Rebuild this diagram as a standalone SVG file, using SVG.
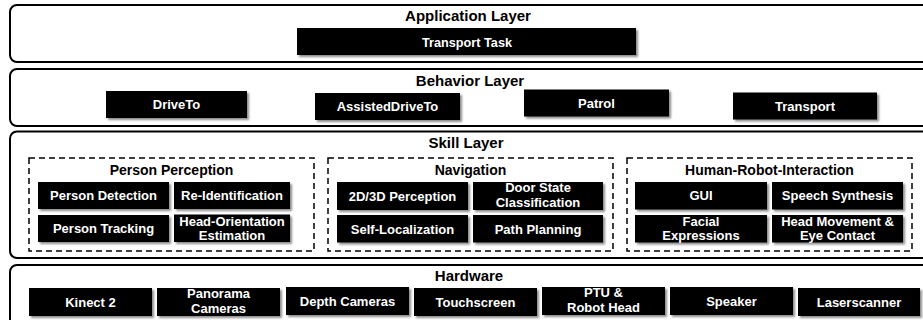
<svg xmlns="http://www.w3.org/2000/svg" width="923" height="320" viewBox="0 0 923 320">
  <defs>
    <filter id="shadow" x="-10%" y="-30%" width="130%" height="180%">
      <feDropShadow dx="2" dy="2" stdDeviation="1.3" flood-color="#000" flood-opacity="0.45"/>
    </filter>
  </defs>
  <style>
    .layer { fill: #fff; stroke: #000; stroke-width: 2; }
    .group { fill: none; stroke: #000; stroke-width: 1.5; stroke-dasharray: 6 4; }
    .box { fill: #000; filter: url(#shadow); }
    .title { font-family: "Liberation Sans", Arial, sans-serif; font-weight: bold; font-size: 15px; fill: #000; text-anchor: middle; }
    .gtitle { font-family: "Liberation Sans", Arial, sans-serif; font-weight: bold; font-size: 14px; fill: #000; text-anchor: middle; }
    .lbl { font-family: "Liberation Sans", Arial, sans-serif; font-weight: bold; font-size: 13px; fill: #fff; text-anchor: middle; }
  </style>

  <!-- Application layer -->
  <g id="application-layer">
    <rect class="layer" x="10" y="5" width="925" height="57" rx="7"/>
    <text class="title" x="468" y="21" font-size="16">Application Layer</text>
  </g>
  <g id="transport-task">
    <rect class="box" x="297" y="28" width="339" height="27"/>
    <text class="lbl" x="467" y="46.5" textLength="90" lengthAdjust="spacingAndGlyphs">Transport Task</text>
  </g>

  <!-- Behavior layer -->
  <g id="behavior-layer">
    <rect class="layer" x="10" y="69" width="925" height="57" rx="7"/>
    <text class="title" x="470" y="85.5" font-size="16">Behavior Layer</text>
  </g>
  <g id="drive-to">
    <rect class="box" x="106" y="91" width="141" height="27"/>
    <text class="lbl" x="176.5" y="109">DriveTo</text>
  </g>
  <g id="assisted-drive-to">
    <rect class="box" x="315" y="93" width="145" height="27"/>
    <text class="lbl" x="387.5" y="110.7">AssistedDriveTo</text>
  </g>
  <g id="patrol">
    <rect class="box" x="524" y="89.5" width="145" height="27"/>
    <text class="lbl" x="596.5" y="108">Patrol</text>
  </g>
  <g id="transport">
    <rect class="box" x="733" y="92.5" width="144" height="27"/>
    <text class="lbl" x="805" y="111">Transport</text>
  </g>

  <!-- Skill layer -->
  <g id="skill-layer">
    <rect class="layer" x="10" y="131.5" width="925" height="126.5" rx="7"/>
    <text class="title" x="466" y="148">Skill Layer</text>
  </g>

  <g id="person-perception">
    <rect class="group" x="29" y="158" width="285" height="93"/>
    <text class="gtitle" x="171.5" y="175">Person Perception</text>
  </g>
  <g id="person-detection">
    <rect class="box" x="38" y="182" width="131" height="27"/>
    <text class="lbl" x="103.5" y="200">Person Detection</text>
  </g>
  <g id="re-identification">
    <rect class="box" x="174" y="182" width="116" height="27"/>
    <text class="lbl" x="232" y="200">Re-Identification</text>
  </g>
  <g id="person-tracking">
    <rect class="box" x="38" y="215" width="131" height="27"/>
    <text class="lbl" x="103.5" y="233">Person Tracking</text>
  </g>
  <g id="head-orientation-estimation">
    <rect class="box" x="174" y="214.5" width="116" height="27.5"/>
    <text class="lbl" x="232" y="225.5">Head-Orientation</text>
    <text class="lbl" x="232" y="240">Estimation</text>
  </g>

  <g id="navigation">
    <rect class="group" x="328" y="158" width="285" height="93"/>
    <text class="gtitle" x="470.5" y="175">Navigation</text>
  </g>
  <g id="perception-2d3d">
    <rect class="box" x="337" y="182" width="131" height="28"/>
    <text class="lbl" x="402.5" y="200.5">2D/3D Perception</text>
  </g>
  <g id="door-state-classification">
    <rect class="box" x="473" y="182" width="130" height="28"/>
    <text class="lbl" x="538" y="192">Door State</text>
    <text class="lbl" x="538" y="207">Classification</text>
  </g>
  <g id="self-localization">
    <rect class="box" x="337" y="215" width="131" height="27.5"/>
    <text class="lbl" x="402.5" y="233.5">Self-Localization</text>
  </g>
  <g id="path-planning">
    <rect class="box" x="473" y="215" width="130" height="27.5"/>
    <text class="lbl" x="538" y="233.5">Path Planning</text>
  </g>

  <g id="human-robot-interaction">
    <rect class="group" x="627" y="158" width="285" height="93"/>
    <text class="gtitle" x="769.5" y="175">Human-Robot-Interaction</text>
  </g>
  <g id="gui">
    <rect class="box" x="635" y="182" width="132" height="27.5"/>
    <text class="lbl" x="701" y="200">GUI</text>
  </g>
  <g id="speech-synthesis">
    <rect class="box" x="772" y="182" width="131" height="27.5"/>
    <text class="lbl" x="837.5" y="200">Speech Synthesis</text>
  </g>
  <g id="facial-expressions">
    <rect class="box" x="635" y="215" width="132" height="27.5"/>
    <text class="lbl" x="701" y="225.5">Facial</text>
    <text class="lbl" x="701" y="240">Expressions</text>
  </g>
  <g id="head-movement-eye-contact">
    <rect class="box" x="772" y="215" width="131" height="27.5"/>
    <text class="lbl" x="837.5" y="225.5">Head Movement &amp;</text>
    <text class="lbl" x="837.5" y="240">Eye Contact</text>
  </g>

  <!-- Hardware layer -->
  <g id="hardware-layer">
    <rect class="layer" x="10" y="265" width="925" height="70" rx="7"/>
    <text class="title" x="469" y="280.5">Hardware</text>
  </g>
  <g id="kinect-2">
    <rect class="box" x="29" y="288" width="123" height="28"/>
    <text class="lbl" x="90.5" y="306.5">Kinect 2</text>
  </g>
  <g id="panorama-cameras">
    <rect class="box" x="157" y="288" width="123" height="28"/>
    <text class="lbl" x="218.5" y="298">Panorama</text>
    <text class="lbl" x="218.5" y="312.5">Cameras</text>
  </g>
  <g id="depth-cameras">
    <rect class="box" x="286" y="287" width="123" height="28"/>
    <text class="lbl" x="347.5" y="305.5">Depth Cameras</text>
  </g>
  <g id="touchscreen">
    <rect class="box" x="414" y="288" width="123" height="28"/>
    <text class="lbl" x="475.5" y="306.5">Touchscreen</text>
  </g>
  <g id="ptu-robot-head">
    <rect class="box" x="542" y="287" width="123" height="28"/>
    <text class="lbl" x="603.5" y="296.5">PTU &amp;</text>
    <text class="lbl" x="603.5" y="311.5">Robot Head</text>
  </g>
  <g id="speaker">
    <rect class="box" x="670" y="287" width="123" height="28"/>
    <text class="lbl" x="731.5" y="305.5">Speaker</text>
  </g>
  <g id="laserscanner">
    <rect class="box" x="798" y="288" width="122" height="28"/>
    <text class="lbl" x="859" y="306.5">Laserscanner</text>
  </g>
</svg>
